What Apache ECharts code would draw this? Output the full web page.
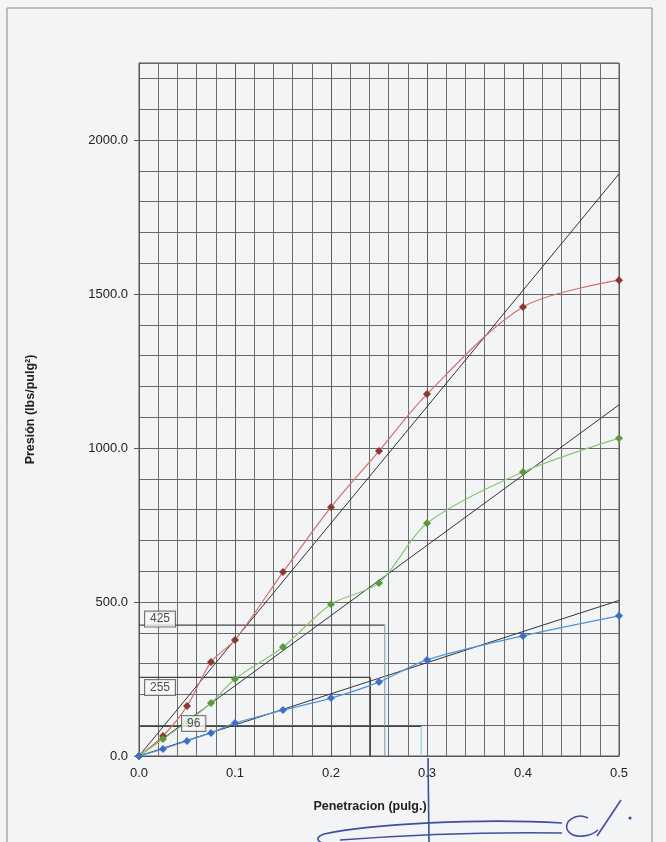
<!DOCTYPE html>
<html>
<head>
<meta charset="utf-8">
<script src="https://cdn.jsdelivr.net/npm/echarts@6/dist/echarts.min.js"></script>
<style>html,body{margin:0;padding:0;background:#f3f4f6;}#c{width:666px;height:842px;}</style>
</head>
<body>
<div id="c"></div>
<script>
const penetration = [0, 0.025, 0.05, 0.075, 0.1, 0.15, 0.2, 0.25, 0.3, 0.4, 0.5];
const redPressure = [0, 65, 162, 305, 377, 597, 808, 990, 1175, 1458, 1545];
const greenPressure = [0, 55, 110, 172, 250, 354, 493, 562, 756, 922, 1032];
const bluePressure = [0, 23, 49, 75, 107, 149, 188, 240, 312, 390, 455];
const tangentEnd = [1890, 1140, 505];   // value of each tangent line at 0.5 in
const refValues = [425, 255, 96];       // boxed reference pressures
const refPenetration = [0.256, 0.241, 0.294];
const refVerticalColors = ['#8aa6b8', '#444444', '#8fd0de'];
const yTickLabels = [0, 500, 1000, 1500, 2000];

const chart = echarts.init(document.getElementById('c'));
const pts = arr => penetration.map((x, i) => [x, arr[i]]);
const font = 'Liberation Sans, Arial, sans-serif';

const series = [];
tangentEnd.forEach(v => series.push({
  type: 'line', data: [[0, 0], [0.5, v]], symbol: 'none', silent: true,
  lineStyle: {color: '#333', width: 1}, z: 3
}));
refValues.forEach((v, i) => {
  series.push({
    type: 'line', data: [[0, v], [refPenetration[i], v]], symbol: 'none',
    lineStyle: {color: '#444', width: 1.2}, z: 4
  });
  series.push({
    type: 'line', data: [[refPenetration[i], v], [refPenetration[i], 0]], symbol: 'none',
    lineStyle: {color: refVerticalColors[i], width: 1.2}, z: 4
  });
});
const curve = (arr, pointColor, lineColor) => ({
  type: 'line', data: pts(arr), smooth: 0.3, symbol: 'diamond', symbolSize: 8,
  itemStyle: {color: pointColor}, lineStyle: {color: lineColor, width: 1.2}, z: 5
});
series.push(curve(redPressure, '#8b3a2f', '#d4706a'));
series.push(curve(greenPressure, '#5b9a3c', '#86c873'));
series.push(curve(bluePressure, '#3c6fc6', '#4f95da'));
const labelOffsets = [[6, -6], [6, 10], [43, -3]];
refValues.forEach((v, i) => series.push({
  type: 'scatter', data: [[0, v]], symbolSize: 0, z: 10, silent: true,
  label: {
    show: true, position: 'right', distance: labelOffsets[i][0], offset: [0, labelOffsets[i][1]],
    formatter: String(v), color: '#222', fontFamily: font, fontSize: 12,
    backgroundColor: '#f8f8f8', borderColor: '#555', borderWidth: 1, padding: [2, 5, 1, 5]
  }
}));

const sigStyle = {stroke: '#3f4ea0', lineWidth: 1.6, fill: 'none'};
const bez = (x1, y1, cx1, cy1, cx2, cy2, x2, y2) => ({
  type: 'bezierCurve', silent: true, style: sigStyle,
  shape: {x1, y1, cpx1: cx1, cpy1: cy1, cpx2: cx2, cpy2: cy2, x2, y2}
});

chart.setOption({
  backgroundColor: '#f3f4f6',
  animation: false,
  grid: {left: 139, right: 47, top: 63, bottom: 86, show: true, borderColor: '#555', borderWidth: 1},
  xAxis: {
    type: 'value', min: 0, max: 0.5, interval: 0.1,
    name: 'Penetracion (pulg.)', nameLocation: 'middle', nameGap: 44,
    nameTextStyle: {fontFamily: font, fontSize: 12.5, fontWeight: 'bold', color: '#222', padding: [0, 18, 0, 0]},
    axisLine: {lineStyle: {color: '#555'}}, axisTick: {show: false},
    axisLabel: {formatter: v => v.toFixed(1), fontFamily: font, fontSize: 13, color: '#222', margin: 11},
    splitLine: {lineStyle: {color: '#5e5e5e', width: 1}},
    minorTick: {show: false, splitNumber: 5},
    minorSplitLine: {show: true, lineStyle: {color: '#6e6e6e', width: 1}}
  },
  yAxis: [{
    type: 'value', min: 0, max: 2250, interval: 100,
    axisLine: {lineStyle: {color: '#555'}}, axisTick: {show: false}, axisLabel: {show: false},
    splitLine: {lineStyle: {color: '#666', width: 1}}
  }, {
    type: 'value', min: 0, max: 2250, interval: 500, position: 'left', offset: 0,
    name: 'Presión (lbs/pulg²)', nameLocation: 'middle', nameGap: 102, nameRotate: 90,
    nameTextStyle: {fontFamily: font, fontSize: 12.5, fontWeight: 'bold', color: '#222'},
    axisLine: {show: false}, axisTick: {show: true, length: 5, lineStyle: {color: '#555'}},
    axisLabel: {formatter: v => yTickLabels.includes(v) ? v.toFixed(1) : '', showMaxLabel: false,
      fontFamily: font, fontSize: 13, color: '#222', margin: 11},
    splitLine: {show: false}
  }],
  graphic: [
    {type: 'rect', silent: true, shape: {x: 7, y: 8, width: 645, height: 900},
      style: {fill: 'none', stroke: '#888', lineWidth: 1}},
    {type: 'line', silent: true, shape: {x1: 428, y1: 758, x2: 429, y2: 842}, style: sigStyle},
    bez(562, 823, 480, 818, 370, 824, 324, 834),
    bez(324, 834, 312, 838, 318, 846, 340, 844),
    bez(340, 840, 420, 834, 500, 832, 562, 833),
    bez(588, 818, 576, 812, 562, 822, 568, 831),
    bez(568, 831, 574, 839, 590, 837, 598, 830),
    {type: 'line', silent: true, shape: {x1: 597, y1: 836, x2: 621, y2: 800}, style: sigStyle},
    {type: 'circle', silent: true, shape: {cx: 630, cy: 818, r: 1.6}, style: {fill: '#3f4ea0'}}
  ],
  series: series
});
</script>
</body>
</html>
